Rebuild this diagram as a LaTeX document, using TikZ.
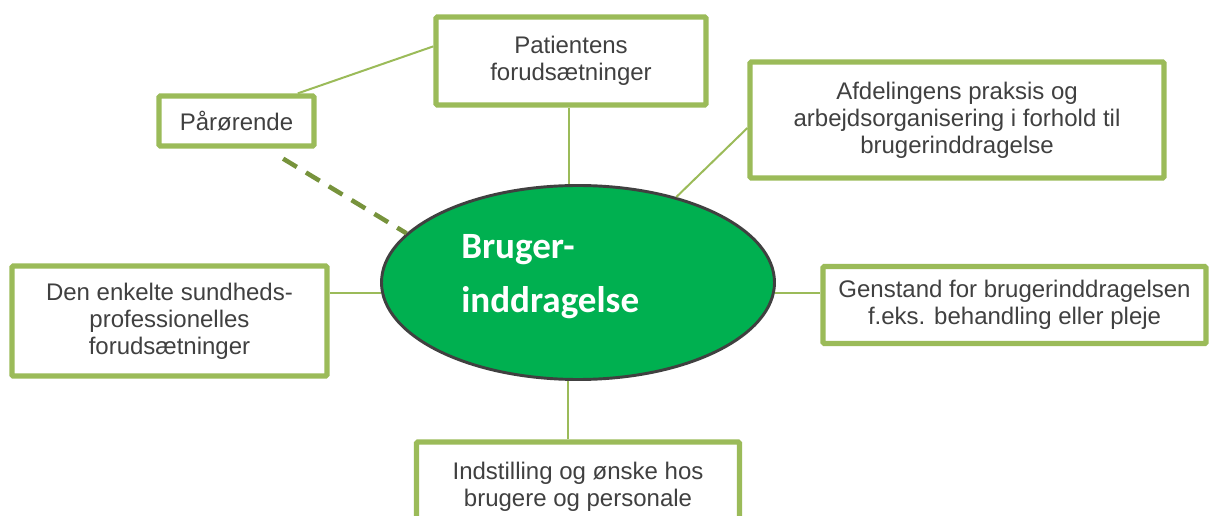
\documentclass[tikz,border=0pt]{standalone}
\usepackage{fontspec}
\setmainfont{Liberation Sans}
\newfontfamily\brugfont{Carlito}
\usetikzlibrary{positioning, shapes.geometric}

\definecolor{kantgroen}{HTML}{9BBB59}
\definecolor{moerkgroen}{HTML}{77933C}
\definecolor{fyldgroen}{HTML}{00B050}
\definecolor{tekstgraa}{HTML}{404040}

\begin{document}
\begin{tikzpicture}[x=0.75pt, y=-0.75pt,
  boks/.style={rectangle, draw=kantgroen, line width=4pt, rounded corners=1pt, fill=white, align=center, text=tekstgraa, font=\fontsize{18}{20.3}\selectfont, inner sep=2pt},
  midte/.style={ellipse, draw=tekstgraa, line width=2.2pt, fill=fyldgroen, inner sep=0pt, minimum width=294.75pt, minimum height=145.5pt},
  titel/.style={align=left, text=white, inner sep=0pt, font=\brugfont\bfseries\fontsize{27.8}{40.5}\selectfont},
  link/.style={draw=kantgroen, line width=1.5pt},
  stiplet/.style={draw=moerkgroen, line width=3.4pt, dash pattern=on 12pt off 8pt}]

  \useasboundingbox (0,0) rectangle (1210,516);

  \node[midte] (brug) at (578,282.5) {};
  \node[titel, anchor=west] (brugtekst) at ([xshift=-87.75pt, yshift=4.1pt]brug.center) {Bruger-\\inddragelse};

  \node[boks, above of=brug, node distance=166.1pt, xshift=-5.25pt, minimum width=202.5pt, minimum height=66pt] (pat) {Patientens\\forudsætninger};
  \node[boks, left of=pat, node distance=250.9pt, yshift=-45pt, minimum width=116.25pt, minimum height=37.5pt] (par) {Pårørende};
  \node[boks, right of=pat, node distance=289.5pt, yshift=-44.25pt, minimum width=310.5pt, minimum height=87pt] (afd) {Afdelingens praksis og\\arbejdsorganisering i forhold til\\brugerinddragelse};
  \node[boks, left of=brug, node distance=306.4pt, yshift=-28.9pt, minimum width=236.25pt, minimum height=82.5pt] (den) {Den enkelte sundheds-\\professionelles\\forudsætninger};
  \node[boks, right of=brug, node distance=327.4pt, yshift=-16.9pt, minimum width=287.25pt, minimum height=57.75pt] (gen) {Genstand for brugerinddragelsen\\f.eks. behandling eller pleje};
  \node[boks, below of=brug, node distance=153.4pt, minimum width=242.25pt, minimum height=67.5pt] (ind) {Indstilling og ønske hos\\brugere og personale};

  \coordinate (pstart) at ([xshift=35pt, yshift=-7.5pt]par.south);

  \draw[link] (brug.95.8) -- (brug.95.8 |- pat.south);
  \draw[link] (brug.264.2) -- (brug.264.2 |- ind.north);
  \draw[link] (brug.183.6) -- (brug.183.6 -| den.east);
  \draw[link] (brug.-3.6) -- (brug.-3.6 -| gen.west);
  \draw[link] (brug.41) -- ([yshift=-6pt]afd.west);
  \draw[link] ([xshift=46pt]par.north) -- ([yshift=11pt]pat.west);
  \draw[stiplet] (pstart) -- (brug.164);
\end{tikzpicture}
\end{document}
